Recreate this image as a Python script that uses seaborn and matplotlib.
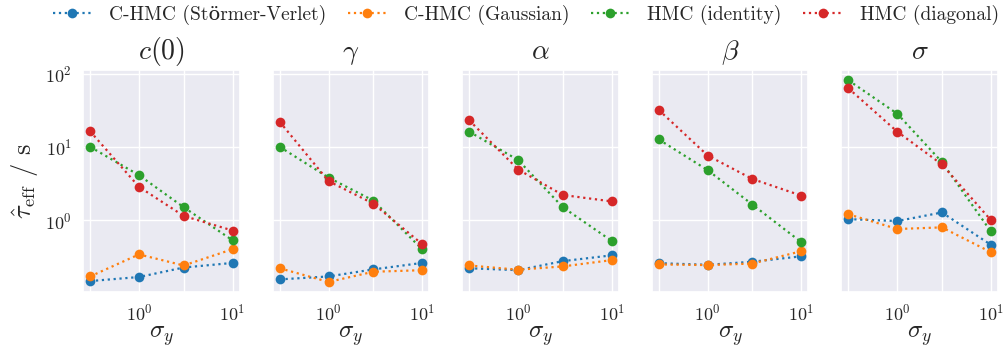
import numpy as np
import pandas as pd
import matplotlib
matplotlib.use("Agg")
import matplotlib.pyplot as plt
import seaborn as sns

# --- data ---
sigma_y = [0.3, 1.0, 3.0, 10.0]
params = ["$c(0)$", r"$\gamma$", r"$\alpha$", r"$\beta$", r"$\sigma$"]
methods = ["C-HMC (Störmer-Verlet)", "C-HMC (Gaussian)", "HMC (identity)", "HMC (diagonal)"]

# tau_eff / s, one row per parameter, one value per sigma_y
chmc_sv = [
    [0.147, 0.167, 0.225, 0.26],
    [0.155, 0.17, 0.212, 0.26],
    [0.22, 0.207, 0.275, 0.33],
    [0.258, 0.245, 0.27, 0.32],
    [1.03, 0.97, 1.27, 0.46],
]
chmc_gauss = [
    [0.17, 0.34, 0.24, 0.40],
    [0.22, 0.143, 0.197, 0.207],
    [0.24, 0.21, 0.233, 0.284],
    [0.248, 0.243, 0.255, 0.376],
    [1.2, 0.755, 0.795, 0.365],
]
hmc_identity = [
    [10.0, 4.1, 1.5, 0.53],
    [10.0, 3.8, 1.85, 0.40],
    [16.1, 6.6, 1.5, 0.52],
    [12.6, 4.8, 1.63, 0.50],
    [81.0, 28.3, 6.2, 0.70],
]
hmc_diagonal = [
    [16.3, 2.84, 1.14, 0.72],
    [22.0, 3.4, 1.68, 0.47],
    [23.0, 4.9, 2.2, 1.8],
    [31.8, 7.6, 3.64, 2.16],
    [63.0, 16.1, 5.75, 1.0],
]

rows = []
for m, table in zip(methods, [chmc_sv, chmc_gauss, hmc_identity, hmc_diagonal]):
    for p, vals in zip(params, table):
        for s, v in zip(sigma_y, vals):
            rows.append({"method": m, "param": p, "sigma_y": s, "tau": v})
df = pd.DataFrame(rows)

# --- plot ---
sns.set_theme(style="darkgrid")
plt.rcParams["font.family"] = ["cmr10", "DejaVu Serif"]
plt.rcParams["mathtext.fontset"] = "cm"
plt.rcParams["axes.formatter.use_mathtext"] = True

palette = sns.color_palette("tab10", 4)
fig, axes = plt.subplots(1, 5, figsize=(10.07, 3.51), dpi=100, sharey=True)

for ax, p in zip(axes, params):
    sns.lineplot(data=df[df.param == p], x="sigma_y", y="tau", hue="method",
                 hue_order=methods, palette=palette, ax=ax, linestyle=":",
                 marker="o", markersize=7, markeredgewidth=0, linewidth=1.6,
                 legend=(p == params[0]))
    ax.set_xscale("log")
    ax.set_yscale("log")
    ax.set_xticks(sigma_y)
    ax.set_title(p, fontsize=20, pad=8)
    ax.set_xlabel(r"$\sigma_y$", fontsize=18, labelpad=0)
    ax.set_ylabel("")
    ax.tick_params(labelsize=13, pad=2)

axes[0].set_ylabel(r"$\hat{\tau}_{\mathrm{eff}}$ / s", fontsize=19)

handles, labels = axes[0].get_legend_handles_labels()
axes[0].get_legend().remove()
fig.legend(handles, labels, loc="upper center", bbox_to_anchor=(0.522, 1.035),
           ncol=4, frameon=False, fontsize=14, handlelength=2.0,
           handletextpad=0.9, columnspacing=1.1)

fig.subplots_adjust(left=0.0824, right=0.991, top=0.80, bottom=0.168, wspace=0.21)
fig.savefig("out.png", dpi=100)
